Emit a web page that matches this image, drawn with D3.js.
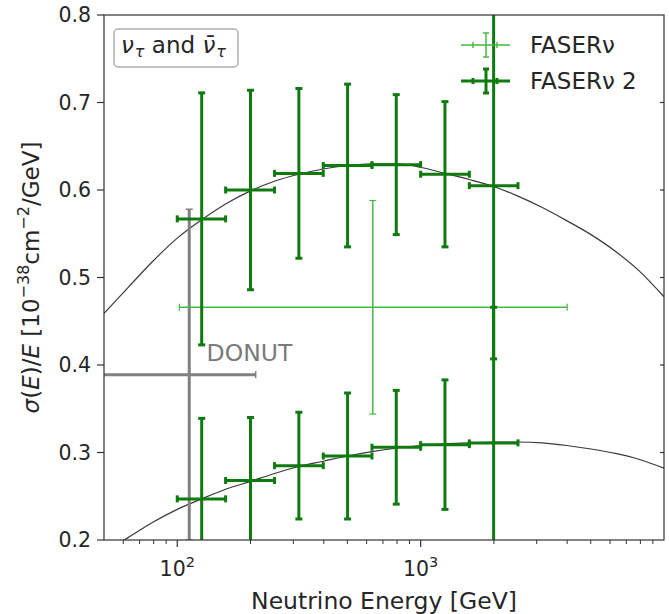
<!DOCTYPE html>
<html>
<head>
<meta charset="utf-8">
<script src="https://cdn.jsdelivr.net/npm/d3@7"></script>
<style>
  body { margin: 0; background: #fff; }
  text { font-family: "DejaVu Sans", sans-serif; fill: #262626; }
</style>
</head>
<body>
<svg width="669" height="614"></svg>
<script>
// energy bins [GeV]
var binE  = [126, 200, 316, 501, 794, 1259, 1995];
var binLo = [100, 158, 251, 398, 631, 1000, 1585];
var binHi = [158, 251, 398, 631, 1000, 1585, 2512];

// FASERnu 2, two sets of points
var upperY   = [0.567, 0.600, 0.619, 0.628, 0.629, 0.618, 0.605];
var upperErr = [0.144, 0.114, 0.097, 0.093, 0.080, 0.083, 0.198];
var lowerY   = [0.247, 0.268, 0.285, 0.296, 0.306, 0.309, 0.311];
var lowerErr = [0.092, 0.072, 0.061, 0.072, 0.065, 0.074, 0.155];

// FASERnu
var faserE = [636], faserLo = [102], faserHi = [4000], faserY = [0.466], faserErr = [0.122];

// DONUT
var donutE = [112], donutLo = [14], donutHi = [210], donutY = [0.389], donutErr = [0.189];

// theory curves
var curveE      = [50, 63, 79, 100, 126, 158, 200, 251, 316, 398, 501, 631, 794, 1000, 1259, 1585, 1995, 2512, 3162, 3981, 5012, 6310, 7943, 10000];
var upperCurveY = [0.459, 0.489, 0.518, 0.545, 0.566, 0.584, 0.599, 0.610, 0.618, 0.624, 0.628, 0.630, 0.630, 0.626, 0.619, 0.612, 0.604, 0.593, 0.580, 0.565, 0.549, 0.530, 0.507, 0.478];
var lowerCurveY = [0.186, 0.203, 0.220, 0.235, 0.247, 0.258, 0.267, 0.276, 0.284, 0.290, 0.296, 0.301, 0.305, 0.308, 0.310, 0.311, 0.312, 0.312, 0.311, 0.308, 0.304, 0.299, 0.292, 0.282];

var yTicks = [0.2, 0.3, 0.4, 0.5, 0.6, 0.7, 0.8];
var xMajor = [100, 1000];
var xMinor = [60, 70, 80, 90, 200, 300, 400, 500, 600, 700, 800, 900, 2000, 3000, 4000, 5000, 6000, 7000, 8000, 9000];

var darkGreen = "#0f7a0f", lightGreen = "#45b845", grey = "#808080";

var svg = d3.select("svg"),
    margin = {top: 15, right: 5, bottom: 74, left: 104},
    width = +svg.attr("width") - margin.left - margin.right,
    height = +svg.attr("height") - margin.top - margin.bottom,
    g = svg.append("g").attr("transform", "translate(" + margin.left + "," + margin.top + ")");

var x = d3.scaleLog().domain([50, 10000]).range([0, width]);
var y = d3.scaleLinear().domain([0.2, 0.8]).range([height, 0]);

svg.append("defs").append("clipPath").attr("id", "clip")
  .append("rect").attr("width", width).attr("height", height);

var plot = g.append("g").attr("clip-path", "url(#clip)");

// theory lines
var line = d3.line()
    .x(function(d) { return x(d[0]); })
    .y(function(d) { return y(d[1]); })
    .curve(d3.curveMonotoneX);

[upperCurveY, lowerCurveY].forEach(function(c) {
  plot.append("path")
      .datum(d3.zip(curveE, c))
      .attr("fill", "none")
      .attr("stroke", "#3a3a3a")
      .attr("stroke-width", 1.2)
      .attr("d", line);
});

function errorbars(E, lo, hi, Y, err, color, lw, capLen, capW) {
  var pts = E.map(function(e, i) { return {e: e, lo: lo[i], hi: hi[i], y: Y[i], err: err[i]}; });
  var grp = plot.append("g").attr("stroke", color);
  pts.forEach(function(d) {
    var cx = x(d.e), cy = y(d.y),
        x0 = x(d.lo), x1 = x(d.hi),
        y0 = y(d.y - d.err), y1 = y(d.y + d.err);
    grp.append("line").attr("x1", x0).attr("x2", x1).attr("y1", cy).attr("y2", cy).attr("stroke-width", lw);
    grp.append("line").attr("x1", cx).attr("x2", cx).attr("y1", y0).attr("y2", y1).attr("stroke-width", lw);
    [x0, x1].forEach(function(xx) {
      grp.append("line").attr("x1", xx).attr("x2", xx).attr("y1", cy - capLen / 2).attr("y2", cy + capLen / 2).attr("stroke-width", capW);
    });
    [y0, y1].forEach(function(yy) {
      grp.append("line").attr("x1", cx - capLen / 2).attr("x2", cx + capLen / 2).attr("y1", yy).attr("y2", yy).attr("stroke-width", capW);
    });
  });
}

errorbars(donutE, donutLo, donutHi, donutY, donutErr, grey, 3, 7, 1.5);
errorbars(faserE, faserLo, faserHi, faserY, faserErr, lightGreen, 1.5, 7, 1.2);
errorbars(binE, binLo, binHi, upperY, upperErr, darkGreen, 3, 7, 3);
errorbars(binE, binLo, binHi, lowerY, lowerErr, darkGreen, 3, 7, 3);

g.append("text")
    .attr("x", x(132))
    .attr("y", y(0.389) - 14)
    .style("font-size", "23.5px")
    .style("fill", "#7a7a7a")
    .text("DONUT");

// frame
g.append("rect")
    .attr("width", width).attr("height", height)
    .attr("fill", "none").attr("stroke", "#333").attr("stroke-width", 1.2);

// y axis
var yAxis = g.append("g");
yTicks.forEach(function(t) {
  yAxis.append("line").attr("x1", -7).attr("x2", 0).attr("y1", y(t)).attr("y2", y(t))
      .attr("stroke", "#333").attr("stroke-width", 1.2);
  yAxis.append("text").attr("x", -13).attr("y", y(t)).attr("dy", "0.36em")
      .attr("text-anchor", "end").style("font-size", "20.5px").text(d3.format(".1f")(t));
  if (t > 0.2 && t < 0.8) {
    yAxis.append("line").attr("x1", width - 4).attr("x2", width).attr("y1", y(t)).attr("y2", y(t))
        .attr("stroke", "#333").attr("stroke-width", 1.2);
  }
});

// x axis
var xAxis = g.append("g").attr("transform", "translate(0," + height + ")");
xMinor.forEach(function(t) {
  xAxis.append("line").attr("x1", x(t)).attr("x2", x(t)).attr("y1", 0).attr("y2", 4)
      .attr("stroke", "#333").attr("stroke-width", 1);
});
xMajor.forEach(function(t) {
  xAxis.append("line").attr("x1", x(t)).attr("x2", x(t)).attr("y1", 0).attr("y2", 7)
      .attr("stroke", "#333").attr("stroke-width", 1.2);
  var lab = xAxis.append("text").attr("x", x(t)).attr("y", 36)
      .attr("text-anchor", "middle").style("font-size", "20.5px");
  lab.append("tspan").text("10");
  lab.append("tspan").attr("dy", -9).style("font-size", "14.5px").text(Math.round(Math.log10(t)));
});

svg.append("text")
    .attr("x", margin.left + width / 2)
    .attr("y", 609)
    .attr("text-anchor", "middle")
    .style("font-size", "23.5px")
    .text("Neutrino Energy [GeV]");

// y label
var yl = svg.append("text")
    .attr("transform", "translate(39," + (margin.top + height / 2) + ") rotate(-90)")
    .attr("text-anchor", "middle")
    .style("font-size", "23px");
yl.append("tspan").style("font-style", "italic").text("σ");
yl.append("tspan").text("(");
yl.append("tspan").style("font-style", "italic").text("E");
yl.append("tspan").text(")/");
yl.append("tspan").style("font-style", "italic").text("E");
yl.append("tspan").text(" [10");
yl.append("tspan").attr("dy", -10).style("font-size", "16px").text("\u221238");
yl.append("tspan").attr("dy", 10).text("cm");
yl.append("tspan").attr("dy", -10).style("font-size", "16px").text("\u22122");
yl.append("tspan").attr("dy", 10).text("/GeV]");

// box label
g.append("rect")
    .attr("x", 10).attr("y", 14).attr("width", 124).attr("height", 38).attr("rx", 4)
    .attr("fill", "#fff").attr("stroke", "#b0b0b0").attr("stroke-width", 1.5);
var bl = g.append("text").attr("x", 17).attr("y", 38).style("font-size", "23px");
bl.append("tspan").style("font-style", "italic").text("ν");
bl.append("tspan").attr("dy", 4).attr("dx", 1).style("font-size", "16px").style("font-style", "italic").text("τ");
bl.append("tspan").attr("dy", -4).text(" and ");
bl.append("tspan").style("font-style", "italic").text("ν\u0304");
bl.append("tspan").attr("dy", 4).attr("dx", 1).style("font-size", "16px").style("font-style", "italic").text("τ");

// legend
var legendNames = ["FASERν", "FASERν 2"];
var legendColors = [lightGreen, darkGreen];
var legendWidths = [1.5, 3];
var legend = svg.append("g").attr("transform", "translate(486,45)");
legendNames.forEach(function(name, i) {
  var row = legend.append("g").attr("transform", "translate(0," + (i * 36) + ")")
      .attr("stroke", legendColors[i]);
  var lw = legendWidths[i];
  row.append("line").attr("x1", -25).attr("x2", 24).attr("y1", 0).attr("y2", 0).attr("stroke-width", lw);
  row.append("line").attr("x1", 0).attr("x2", 0).attr("y1", -12).attr("y2", 12).attr("stroke-width", lw);
  [-13, 11].forEach(function(xx) {
    row.append("line").attr("x1", xx).attr("x2", xx).attr("y1", -3).attr("y2", 3).attr("stroke-width", lw);
  });
  [-12, 12].forEach(function(yy) {
    row.append("line").attr("x1", -3).attr("x2", 3).attr("y1", yy).attr("y2", yy).attr("stroke-width", lw);
  });
  row.append("text").attr("x", 44).attr("y", 0).attr("dy", "0.36em")
      .attr("stroke", "none").style("font-size", "23px")
      .text(name);
});
</script>
</body>
</html>
